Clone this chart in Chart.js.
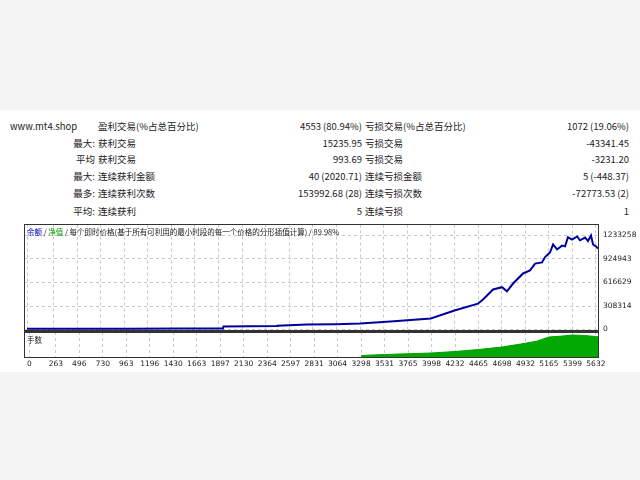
<!DOCTYPE html>
<html><head><meta charset="utf-8">
<script src="https://cdn.jsdelivr.net/npm/chart.js"></script>
<style>
body{margin:0;width:640px;height:480px;background:#f4f4f4;font-family:"Noto Sans CJK SC","DejaVu Sans",sans-serif;position:relative;overflow:hidden}
#white{position:absolute;left:0;top:110px;width:640px;height:262px;background:#fff}
.t{position:absolute;font-size:9.5px;color:#222;white-space:nowrap;line-height:12px}
.r{text-align:right}
#frame1{position:absolute;left:24px;top:224px;width:575px;height:107px;border:1px solid #333;box-sizing:border-box}
#frame2{position:absolute;left:24px;top:331px;width:575px;height:27px;border:1px solid #333;border-top:2px solid #333;box-sizing:border-box}
#c1w{position:absolute;left:24px;top:216px;width:616px;height:124px}
#c2w{position:absolute;left:24px;top:332px;width:616px;height:38px}
.s{position:absolute;font-size:7.5px;color:#222;white-space:nowrap}
</style></head><body>
<div id="white"></div>
<div id="tbl"></div>
<div id="c1w"><canvas id="c1"></canvas></div>
<div id="c2w"><canvas id="c2"></canvas></div>
<div id="frame1"></div><div id="frame2"></div>
<div class="s" style="left:27px;top:226px"><span style="color:#0000c0">余额</span> / <span style="color:#00a000">净值</span> / 每个即时价格(基于所有可利用的最小时段的每一个价格的分形插值计算) / 89.98%</div>
<div class="s" style="left:27px;top:334px">手数</div>
<script>
const rowsLeftLabel=["","最大:","平均","最大:","最多:","平均:"];
const rowsLabel1=["盈利交易(%占总百分比)","获利交易","获利交易","连续获利金额","连续获利次数","连续获利"];
const rowsValue1=["4553 (80.94%)","15235.95","993.69","40 (2020.71)","153992.68 (28)","5"];
const rowsLabel2=["亏损交易(%占总百分比)","亏损交易","亏损交易","连续亏损金额","连续亏损次数","连续亏损"];
const rowsValue2=["1072 (19.06%)","-43341.45","-3231.20","5 (-448.37)","-72773.53 (2)","1"];
const rowY=[120,137,153,170,187,205];
let h='<div class="t" style="left:10px;top:120px">www.mt4.shop</div>';
for(let i=0;i<6;i++){const y=rowY[i];
h+=`<div class="t r" style="left:0;width:95px;top:${y}px">${rowsLeftLabel[i]}</div>`;
h+=`<div class="t" style="left:98px;top:${y}px">${rowsLabel1[i]}</div>`;
h+=`<div class="t r" style="left:200px;width:162px;top:${y}px">${rowsValue1[i]}</div>`;
h+=`<div class="t" style="left:365px;top:${y}px">${rowsLabel2[i]}</div>`;
h+=`<div class="t r" style="left:460px;width:169px;top:${y}px">${rowsValue2[i]}</div>`;}
document.getElementById('tbl').innerHTML=h;

const xTicks=[0,263,496,730,963,1196,1430,1663,1897,2130,2364,2597,2831,3064,3298,3531,3765,3998,4232,4465,4698,4932,5165,5399,5632];
const yTicks=[0,308314,616629,924943,1233258];
const balanceX=[0,500,1000,1500,1940,1945,2475,2480,2772,3064,3298,3600,3998,4232,4465,4515,4614,4703,4752,4812,4911,4980,5030,5099,5129,5178,5208,5248,5297,5327,5356,5396,5446,5475,5525,5554,5584,5604,5634,5653];
const balanceY=[10000,10000,11000,12000,13000,40000,45000,50000,65000,70000,79000,105000,144000,250000,340000,394000,525000,555000,500000,603000,735000,775000,865000,880000,950000,1010000,1115000,1050000,1100000,1090000,1210000,1180000,1220000,1170000,1205000,1160000,1233000,1115000,1090000,1060000];
const lotsX=[3298,3530,3765,3998,4232,4465,4700,4932,5050,5165,5300,5400,5520,5630,5660];
const lotsY=[6,10,13,16,22,30,40,55,64,80,84,88,86,82,80];

const tickFont={size:7.5,family:'DejaVu Sans'};
const commonX={type:'linear',min:-30,max:5663,
 afterBuildTicks:s=>{s.ticks=xTicks.map(v=>({value:v}));}};
new Chart(document.getElementById('c1'),{type:'line',
 data:{datasets:[{data:balanceX.map((x,i)=>({x,y:balanceY[i]})),borderColor:'#0000a0',borderWidth:2,pointRadius:0,tension:0}]},
 options:{responsive:true,maintainAspectRatio:false,animation:false,
 plugins:{legend:{display:false},tooltip:{enabled:false}},layout:{padding:0},
 scales:{x:{...commonX,afterFit:s=>{s.height=0;},ticks:{display:false},grid:{color:'#c8c8c8',drawTicks:false},border:{display:false,dash:[3,3]}},
 y:{position:'right',min:-26000,max:1377000,afterBuildTicks:s=>{s.ticks=yTicks.map(v=>({value:v}));},
  afterFit:s=>{s.width=41;},
  ticks:{padding:4,color:'#222',font:tickFont,callback:v=>String(v)},
  grid:{color:'#c8c8c8',drawTicks:false},border:{display:false,dash:[3,3]}}}}});
new Chart(document.getElementById('c2'),{type:'line',
 data:{datasets:[{data:lotsX.map((x,i)=>({x,y:lotsY[i]})),borderColor:'#00a000',backgroundColor:'#00a800',fill:'origin',borderWidth:1,pointRadius:0,tension:0}]},
 options:{responsive:true,maintainAspectRatio:false,animation:false,
 plugins:{legend:{display:false},tooltip:{enabled:false}},layout:{padding:0},
 scales:{x:{...commonX,afterFit:s=>{s.height=13;},ticks:{padding:3,color:'#222',font:tickFont,maxRotation:0,autoSkip:false,callback:v=>String(v)},grid:{color:'#c8c8c8',drawTicks:false},border:{display:false,dash:[3,3]}},
 y:{position:'right',min:0,max:100,ticks:{display:false},afterFit:s=>{s.width=41;},grid:{display:false},border:{display:false}}}}});
</script></body></html>
